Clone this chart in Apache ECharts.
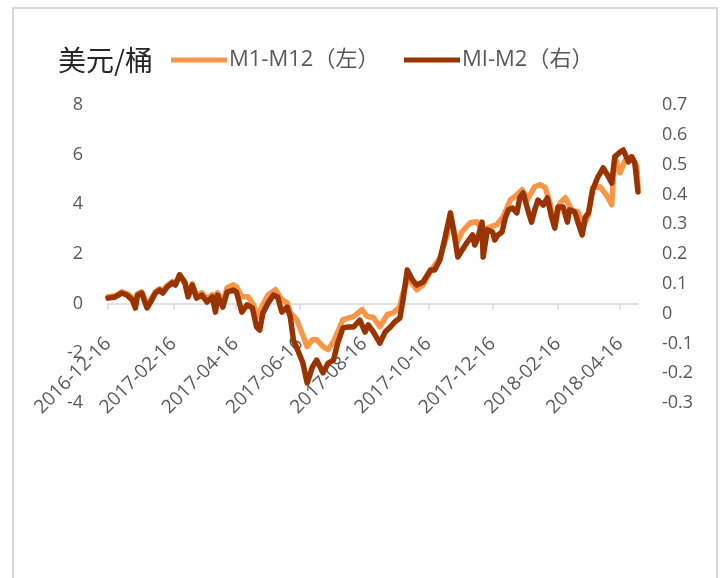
<!DOCTYPE html>
<html><head><meta charset="utf-8">
<script src="https://cdn.jsdelivr.net/npm/echarts@6/dist/echarts.min.js"></script>
<style>html,body{margin:0;padding:0;background:#fff}#c{width:720px;height:578px}</style>
</head><body><div id="c"></div>
<script>
const tickDates = ['2016-12-16','2017-02-16','2017-04-16','2017-06-16','2017-08-16','2017-10-16','2017-12-16','2018-02-16','2018-04-16'];
const xStart = '2016-12-16';
const xEnd = '2018-05-03';
const unitLabel = '美元/桶';
const nameM1M12 = 'M1-M12（左）';
const nameMIM2 = 'MI-M2（右）';

const datesM1M12 = ['2016-12-16','2016-12-23','2016-12-29','2017-01-03','2017-01-08','2017-01-11','2017-01-13','2017-01-17','2017-01-22','2017-01-25','2017-01-30','2017-02-03','2017-02-06','2017-02-10','2017-02-15','2017-02-18','2017-02-22','2017-02-27','2017-03-02','2017-03-06','2017-03-10','2017-03-15','2017-03-20','2017-03-25','2017-03-28','2017-03-30','2017-04-04','2017-04-08','2017-04-14','2017-04-17','2017-04-22','2017-04-28','2017-05-03','2017-05-07','2017-05-12','2017-05-17','2017-05-24','2017-05-30','2017-06-04','2017-06-07','2017-06-13','2017-06-18','2017-06-23','2017-06-28','2017-07-02','2017-07-08','2017-07-13','2017-07-19','2017-07-27','2017-08-06','2017-08-14','2017-08-19','2017-08-25','2017-08-31','2017-09-07','2017-09-13','2017-09-19','2017-09-22','2017-09-27','2017-10-05','2017-10-11','2017-10-18','2017-10-27','2017-11-03','2017-11-06','2017-11-12','2017-11-17','2017-11-25','2017-12-01','2017-12-06','2017-12-12','2017-12-20','2017-12-26','2018-01-02','2018-01-06','2018-01-13','2018-01-18','2018-01-25','2018-01-30','2018-02-04','2018-02-09','2018-02-13','2018-02-18','2018-02-23','2018-03-01','2018-03-07','2018-03-12','2018-03-17','2018-03-21','2018-03-28','2018-04-04','2018-04-08','2018-04-11','2018-04-16','2018-04-21','2018-04-27','2018-05-02','2018-05-03'];
const valuesM1M12 = [0.28,0.32,0.48,0.40,0.24,-0.04,0.40,0.48,-0.04,0.12,0.48,0.60,0.52,0.72,0.89,0.80,1.17,0.89,0.36,0.80,0.32,0.44,0.20,0.36,-0.16,0.44,0.04,0.64,0.76,0.68,0.28,0.28,-0.04,-0.52,-0.04,0.36,0.56,0.16,0.04,-0.36,-0.64,-1.17,-1.73,-1.45,-1.45,-1.73,-1.85,-1.45,-0.64,-0.52,-0.24,-0.52,-0.56,-0.93,-0.44,-0.36,-0.12,0.44,1.05,0.56,0.76,1.29,1.85,2.78,3.58,2.45,2.90,3.26,3.30,2.98,3.06,3.18,3.50,4.19,4.31,4.59,4.19,4.71,4.79,4.67,3.98,3.10,4.06,4.27,3.78,3.70,3.10,3.58,4.67,4.71,4.31,3.98,5.92,5.27,5.79,5.92,5.51,4.67];

const datesMIM2 = ['2016-12-16','2016-12-23','2016-12-29','2017-01-03','2017-01-08','2017-01-11','2017-01-13','2017-01-17','2017-01-22','2017-01-25','2017-01-30','2017-02-03','2017-02-06','2017-02-10','2017-02-15','2017-02-18','2017-02-22','2017-02-27','2017-03-02','2017-03-06','2017-03-10','2017-03-15','2017-03-20','2017-03-25','2017-03-28','2017-03-30','2017-04-04','2017-04-08','2017-04-14','2017-04-17','2017-04-22','2017-04-27','2017-05-02','2017-05-06','2017-05-09','2017-05-12','2017-05-17','2017-05-22','2017-05-26','2017-05-30','2017-06-04','2017-06-07','2017-06-10','2017-06-14','2017-06-19','2017-06-23','2017-06-28','2017-07-02','2017-07-08','2017-07-13','2017-07-18','2017-07-22','2017-07-27','2017-08-01','2017-08-06','2017-08-12','2017-08-17','2017-08-20','2017-08-25','2017-08-31','2017-09-05','2017-09-10','2017-09-14','2017-09-19','2017-09-22','2017-09-26','2017-10-01','2017-10-05','2017-10-11','2017-10-18','2017-10-22','2017-10-27','2017-11-01','2017-11-06','2017-11-10','2017-11-13','2017-11-17','2017-11-22','2017-11-27','2017-11-29','2017-12-02','2017-12-06','2017-12-07','2017-12-11','2017-12-16','2017-12-18','2017-12-21','2017-12-25','2017-12-28','2017-12-31','2018-01-04','2018-01-08','2018-01-11','2018-01-14','2018-01-19','2018-01-22','2018-01-25','2018-01-28','2018-02-02','2018-02-06','2018-02-10','2018-02-13','2018-02-16','2018-02-21','2018-02-25','2018-02-27','2018-03-04','2018-03-07','2018-03-11','2018-03-14','2018-03-17','2018-03-21','2018-03-26','2018-03-31','2018-04-05','2018-04-08','2018-04-11','2018-04-16','2018-04-19','2018-04-24','2018-04-27','2018-04-30','2018-05-03'];
const valuesMIM2 = [0.052,0.056,0.069,0.062,0.046,0.019,0.062,0.069,0.019,0.036,0.069,0.079,0.069,0.089,0.103,0.096,0.130,0.103,0.056,0.096,0.052,0.062,0.039,0.056,0.005,0.062,0.022,0.072,0.079,0.072,0.005,0.029,0.019,-0.045,-0.055,0.002,0.036,0.062,0.056,0.005,0.022,-0.011,-0.089,-0.122,-0.166,-0.233,-0.179,-0.156,-0.199,-0.166,-0.156,-0.099,-0.048,-0.045,-0.045,-0.022,-0.062,-0.038,-0.062,-0.099,-0.062,-0.045,-0.028,-0.015,0.046,0.146,0.113,0.096,0.106,0.146,0.146,0.180,0.257,0.338,0.257,0.190,0.213,0.240,0.264,0.230,0.254,0.307,0.190,0.281,0.274,0.247,0.264,0.274,0.321,0.348,0.354,0.338,0.391,0.405,0.341,0.307,0.348,0.381,0.364,0.388,0.324,0.287,0.358,0.358,0.307,0.348,0.341,0.307,0.264,0.324,0.338,0.415,0.459,0.489,0.459,0.438,0.526,0.542,0.549,0.509,0.526,0.505,0.408];

const leftAxis = {min: -4, max: 8, interval: 2};
const rightAxis = {min: -0.3, max: 0.7, interval: 0.1};

// calendar-day categories for the date axis
function dayList(a, b) {
  const out = [];
  const p = s => { const t = s.split('-').map(Number); return Date.UTC(t[0], t[1] - 1, t[2]); };
  for (let t = p(a); t <= p(b); t += 86400000) out.push(new Date(t).toISOString().slice(0, 10));
  return out;
}
const days = dayList(xStart, xEnd);
const tickSet = new Set(tickDates);
const isTick = (i, v) => tickSet.has(days[i]);

const labelFont = 'Open Sans, Noto Sans CJK SC, sans-serif';
const labelColor = '#595959';

// grid geometry; the date axis sits on the left axis' zero line
const gridTop = 105, gridBottom = 175, chartH = 578;
const plotH = chartH - gridTop - gridBottom;
const zeroOffset = -plotH * (0 - leftAxis.min) / (leftAxis.max - leftAxis.min);

const chart = echarts.init(document.getElementById('c'), null, {renderer: 'canvas'});
chart.setOption({
  animation: false,
  backgroundColor: '#fff',
  graphic: [{
    type: 'rect', silent: true,
    shape: {x: 13, y: 8, width: 704, height: 600},
    style: {fill: 'none', stroke: '#d9d9d9', lineWidth: 2}
  }],
  title: {
    text: unitLabel, left: 53, top: 41,
    textStyle: {fontFamily: 'Noto Sans CJK SC', fontSize: 28, fontWeight: 'normal', color: '#262626'}
  },
  legend: [
    {data: [nameM1M12], left: 166, top: 44, icon: 'rect', itemWidth: 56, itemHeight: 5, itemGap: 0,
     textStyle: {fontFamily: labelFont, fontSize: 22, color: labelColor, padding: [0, 0, 0, -3]}},
    {data: [nameMIM2], left: 399, top: 44, icon: 'rect', itemWidth: 56, itemHeight: 5, itemGap: 0,
     textStyle: {fontFamily: labelFont, fontSize: 22, color: labelColor, padding: [0, 0, 0, -3]}}
  ],
  grid: {left: 108, right: 82, top: gridTop, bottom: gridBottom, containLabel: false},
  xAxis: {
    type: 'category', data: days, boundaryGap: false, offset: zeroOffset,
    axisLine: {onZero: false, lineStyle: {color: '#d9d9d9', width: 1.5}},
    axisTick: {show: true, length: 6, interval: isTick, lineStyle: {color: '#d9d9d9', width: 1.5}},
    axisLabel: {
      interval: isTick, rotate: 45, margin: 37, hideOverlap: false,
      fontFamily: labelFont, fontSize: 19, color: labelColor
    },
    splitLine: {show: false}
  },
  yAxis: [
    {type: 'value', min: leftAxis.min, max: leftAxis.max, interval: leftAxis.interval,
     axisLine: {show: false}, axisTick: {show: false}, splitLine: {show: false},
     axisLabel: {margin: 25, fontFamily: labelFont, fontSize: 18, color: labelColor}},
    {type: 'value', min: rightAxis.min, max: rightAxis.max, interval: rightAxis.interval, position: 'right',
     axisLine: {show: false}, axisTick: {show: false}, splitLine: {show: false},
     axisLabel: {margin: 24, fontFamily: labelFont, fontSize: 18, color: labelColor,
       formatter: v => String(Math.round(v * 10) / 10)}}
  ],
  series: [
    {name: nameM1M12, type: 'line', yAxisIndex: 0, showSymbol: false, symbol: 'none',
     data: datesM1M12.map((d, i) => [d, valuesM1M12[i]]),
     lineStyle: {width: 5.5, color: '#f79646', cap: 'round', join: 'round'}, itemStyle: {color: '#f79646'}, z: 2},
    {name: nameMIM2, type: 'line', yAxisIndex: 1, showSymbol: false, symbol: 'none',
     data: datesMIM2.map((d, i) => [d, valuesMIM2[i]]),
     lineStyle: {width: 5.5, color: '#993300', cap: 'round', join: 'round'}, itemStyle: {color: '#993300'}, z: 3}
  ]
});
</script>
</body></html>
